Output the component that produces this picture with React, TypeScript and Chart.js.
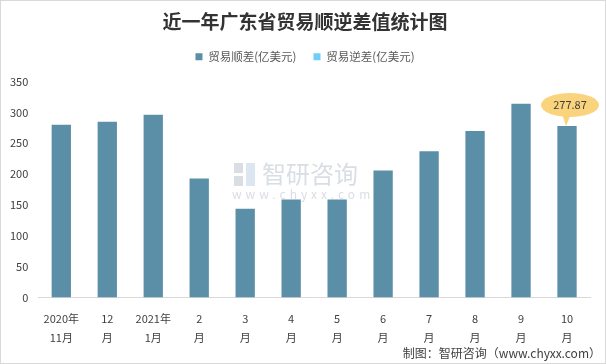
import React, { useEffect, useRef } from "react";
import { Chart, registerables } from "chart.js";

Chart.register(...registerables);

const categories: string[][] = [
  ["2020年", "11月"], ["12", "月"], ["2021年", "1月"], ["2", "月"], ["3", "月"], ["4", "月"],
  ["5", "月"], ["6", "月"], ["7", "月"], ["8", "月"], ["9", "月"], ["10", "月"],
];
const surplus: number[] = [280, 285, 296, 193, 144, 159, 159, 206, 237, 270, 314, 277.87];
const deficit: (number | null)[] = [null, null, null, null, null, null, null, null, null, null, null, null];
const seriesNames: string[] = ["贸易顺差(亿美元)", "贸易逆差(亿美元)"];
const titleText = "近一年广东省贸易顺逆差值统计图";
const footerText = "制图：智研咨询（www.chyxx.com）";
const calloutIndex = 11;

const FONT = "'Noto Sans CJK SC', 'Microsoft YaHei', sans-serif";

const legendMarginPlugin = {
  id: "legendMargin",
  beforeInit(chart: any) {
    const legend = chart.legend;
    if (!legend) return;
    const origFit = legend.fit;
    legend.fit = function () {
      origFit.bind(legend)();
      this.height += 9;
    };
  },
  beforeDraw(chart: any) {
    const legend = chart.legend;
    if (legend && legend.lineWidths && legend.lineWidths.length) {
      legend.lineWidths[0] -= 20;
    }
  },
};

const decorPlugin = {
  id: "decor",
  beforeDraw(chart: any) {
    const ctx = chart.ctx;
    ctx.save();
    ctx.fillStyle = "#ffffff";
    ctx.fillRect(0, 0, chart.width, chart.height);
    ctx.strokeStyle = "#d9d9d9";
    ctx.lineWidth = 1;
    ctx.strokeRect(0.5, 0.5, chart.width - 1, chart.height - 1);
    // title
    ctx.fillStyle = "#333333";
    ctx.font = `bold 19px ${FONT}`;
    ctx.textAlign = "center";
    ctx.textBaseline = "middle";
    ctx.fillText(titleText, chart.width / 2 + 2, 22);
    // watermark
    ctx.fillStyle = "#d9dee4";
    ctx.font = `24px ${FONT}`;
    ctx.textAlign = "left";
    ctx.fillText("智研咨询", 262, 174);
    ctx.fillRect(234, 163, 9, 10);
    ctx.fillRect(234, 176, 9, 10);
    ctx.fillStyle = "#dbe6f0";
    ctx.fillRect(246, 163, 9, 23);
    ctx.fillStyle = "#d9dee4";
    ctx.font = `12px ${FONT}`;
    (ctx as any).letterSpacing = "4px";
    ctx.fillText("www.chyxx.com", 232, 194);
    (ctx as any).letterSpacing = "0px";
    ctx.restore();
  },
  afterDraw(chart: any) {
    const ctx = chart.ctx;
    ctx.save();
    // footer
    ctx.fillStyle = "#404040";
    ctx.font = `12px ${FONT}`;
    ctx.textAlign = "right";
    ctx.textBaseline = "middle";
    ctx.fillText(footerText, 601, 353);
    // callout
    const meta = chart.getDatasetMeta(0);
    const el = meta.data[calloutIndex];
    if (el) {
      const x = el.x;
      const top = el.y;
      const cx = x + 3;
      const cy = top - 21;
      ctx.fillStyle = "#F9D47C";
      ctx.beginPath();
      ctx.ellipse(cx, cy, 29, 12, 0, 0, Math.PI * 2);
      ctx.fill();
      ctx.beginPath();
      ctx.moveTo(x - 5, cy + 9);
      ctx.lineTo(x + 4, cy + 9);
      ctx.lineTo(x - 1, top);
      ctx.closePath();
      ctx.fill();
      ctx.fillStyle = "#404040";
      ctx.font = `11px ${FONT}`;
      ctx.textAlign = "center";
      ctx.fillText(surplus[calloutIndex].toFixed(2), cx, cy);
    }
    ctx.restore();
  },
};

export default function App() {
  const ref = useRef<HTMLCanvasElement>(null);
  useEffect(() => {
    document.body.style.margin = "0";
    const chart = new Chart(ref.current!, {
      type: "bar",
      data: {
        labels: categories,
        datasets: [
          {
            label: seriesNames[0],
            data: surplus,
            backgroundColor: "#5B8FA8",
            barPercentage: 0.84,
            categoryPercentage: 0.5,
            grouped: false,
          },
          {
            label: seriesNames[1],
            data: deficit,
            backgroundColor: "#6DCFF6",
            barPercentage: 0.84,
            categoryPercentage: 0.5,
            grouped: false,
          },
        ],
      },
      options: {
        animation: false,
        responsive: false,
        layout: { padding: { left: 0, right: 16, top: 34, bottom: 5 } },
        plugins: {
          title: { display: false },
          tooltip: { enabled: false },
          legend: {
            display: true,
            position: "top",
            labels: {
              boxWidth: 7,
              boxHeight: 7,
              color: "#595959",
              font: { family: FONT, size: 11.5 },
              padding: 17,
            },
          },
        },
        scales: {
          x: {
            grid: { display: false, drawTicks: false },
            border: { display: true, color: "#d9d9d9" },
            ticks: {
              color: "#404040",
              font: { family: FONT, size: 11, lineHeight: 1.7 },
              maxRotation: 0,
              autoSkip: false,
              padding: 12,
            },
          },
          y: {
            min: 0,
            max: 350,
            grid: { display: false, drawTicks: false },
            border: { display: false },
            ticks: { stepSize: 50, color: "#404040", font: { family: FONT, size: 11 }, padding: 10 },
          },
        },
      },
      plugins: [legendMarginPlugin, decorPlugin],
    });
    return () => chart.destroy();
  }, []);
  return (
    <div style={{ width: 606, height: 364 }}>
      <canvas ref={ref} width={606} height={364} style={{ display: "block" }} />
    </div>
  );
}
